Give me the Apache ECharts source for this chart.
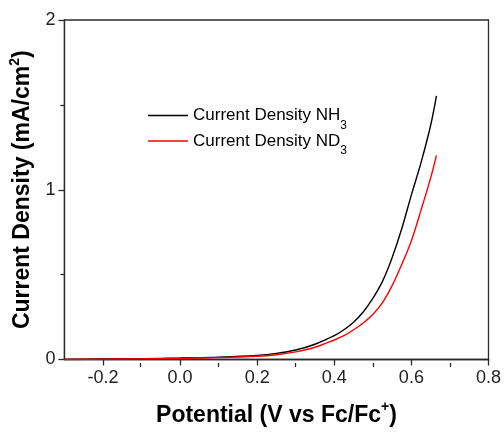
<!DOCTYPE html>
<html>
<head>
<meta charset="utf-8">
<script src="https://cdn.jsdelivr.net/npm/echarts@6/dist/echarts.min.js"></script>
<style>
  html, body { margin: 0; padding: 0; background: #fff; }
  #chart { width: 504px; height: 432px; }
</style>
</head>
<body>
<div id="chart"></div>
<script>
// Linear sweep: potential (V vs Fc/Fc+) and current density (mA/cm2)
const potential = [-0.3, -0.2, -0.1, 0.0, 0.1, 0.2, 0.25, 0.3, 0.35, 0.4, 0.425, 0.45, 0.475, 0.5, 0.525, 0.55, 0.575, 0.6, 0.625, 0.65, 0.665];
const densityNH3 = [0.000, 0.003, 0.005, 0.009, 0.014, 0.024, 0.036, 0.056, 0.09, 0.14, 0.175, 0.22, 0.28, 0.36, 0.46, 0.6, 0.77, 0.97, 1.16, 1.38, 1.553];
const densityND3 = [0.000, 0.002, 0.004, 0.007, 0.011, 0.019, 0.028, 0.045, 0.072, 0.115, 0.14, 0.175, 0.215, 0.265, 0.335, 0.435, 0.56, 0.70, 0.88, 1.07, 1.203];

const seriesNames = ['Current Density NH3', 'Current Density ND3'];
const seriesColors = ['#000000', '#ff0000'];

const xMajorTicks = [-0.2, 0.0, 0.2, 0.4, 0.6, 0.8];
const xMinorTicks = [-0.1, 0.1, 0.3, 0.5, 0.7];
const yTicks = [0, 1, 2];

const FONT = '"Liberation Sans", Arial, sans-serif';
const AXIS_COLOR = '#2b2b2b';

function pairs(xs, ys) {
  return xs.map((x, i) => [x, ys[i]]);
}

const gridBox = { left: 63, top: 20, width: 426, height: 343 };

const chart = echarts.init(document.getElementById('chart'), null, { renderer: 'canvas' });

chart.setOption({
  backgroundColor: '#ffffff',
  animation: false,
  grid: [
    Object.assign({ show: true, borderColor: AXIS_COLOR, borderWidth: 1.3, containLabel: false }, gridBox),
    Object.assign({ show: false, containLabel: false }, gridBox)
  ],
  legend: {
    show: true,
    orient: 'vertical',
    left: 148,
    top: 107,
    padding: 0,
    icon: 'rect',
    itemWidth: 40,
    itemHeight: 1.5,
    itemGap: 1,
    data: seriesNames,
    formatter: function (name) {
      return name === seriesNames[0]
        ? '{t|Current Density NH}{s|3}'
        : '{t|Current Density ND}{s|3}';
    },
    textStyle: {
      fontFamily: FONT,
      fontSize: 17,
      color: '#000',
      rich: {
        t: { fontFamily: FONT, fontSize: 17, color: '#000', lineHeight: 20 },
        s: { fontFamily: FONT, fontSize: 12, color: '#000', lineHeight: 20, verticalAlign: 'bottom', padding: [0, 0, -6, 0] }
      }
    }
  },
  xAxis: [
    {
      type: 'value',
      gridIndex: 0,
      min: -0.3,
      max: 0.8,
      interval: 0.1,
      name: '{b|Potential (V vs Fc/Fc}{p|+}{b|)}',
      nameLocation: 'middle',
      nameGap: 43,
      nameTextStyle: {
        fontFamily: FONT,
        fontSize: 23,
        fontWeight: 'bold',
        color: '#000',
        rich: {
          b: { fontFamily: FONT, fontSize: 23, fontWeight: 'bold', color: '#000', lineHeight: 26 },
          p: { fontFamily: FONT, fontSize: 14, fontWeight: 'bold', color: '#000', lineHeight: 26, verticalAlign: 'top', padding: [-2, 0, 0, 0] }
        }
      },
      axisLine: { show: true, onZero: false, lineStyle: { color: AXIS_COLOR, width: 1.3 } },
      axisTick: { show: true, inside: false, length: 6, customValues: xMajorTicks, lineStyle: { color: AXIS_COLOR, width: 1.3 } },
      axisLabel: {
        customValues: xMajorTicks,
        margin: 10,
        fontFamily: FONT,
        fontSize: 18,
        color: '#222',
        formatter: v => v.toFixed(1)
      },
      splitLine: { show: false }
    },
    {
      type: 'value',
      gridIndex: 1,
      min: -0.3,
      max: 0.8,
      interval: 0.1,
      axisLine: { show: false, onZero: false },
      axisTick: { show: true, inside: false, length: 4, customValues: xMinorTicks, lineStyle: { color: AXIS_COLOR, width: 1.3 } },
      axisLabel: { show: false },
      splitLine: { show: false }
    }
  ],
  yAxis: [
    {
      type: 'value',
      gridIndex: 0,
      min: 0,
      max: 2,
      interval: 1,
      name: '{b|Current Density (mA/cm}{p|2}{b|)}',
      nameLocation: 'middle',
      nameGap: 26,
      nameRotate: 90,
      nameTextStyle: {
        fontFamily: FONT,
        fontSize: 23,
        fontWeight: 'bold',
        color: '#000',
        rich: {
          b: { fontFamily: FONT, fontSize: 23, fontWeight: 'bold', color: '#000', lineHeight: 26 },
          p: { fontFamily: FONT, fontSize: 14, fontWeight: 'bold', color: '#000', lineHeight: 26, verticalAlign: 'top', padding: [-2, 0, 0, 0] }
        }
      },
      axisLine: { show: true, onZero: false, lineStyle: { color: AXIS_COLOR, width: 1.3 } },
      axisTick: { show: true, inside: false, length: 6, customValues: yTicks, lineStyle: { color: AXIS_COLOR, width: 1.3 } },
      minorTick: { show: true, splitNumber: 2, length: 4, lineStyle: { color: AXIS_COLOR, width: 1.3 } },
      axisLabel: {
        customValues: yTicks,
        margin: 9,
        fontFamily: FONT,
        fontSize: 18,
        color: '#222'
      },
      splitLine: { show: false },
      minorSplitLine: { show: false }
    },
    {
      type: 'value',
      gridIndex: 1,
      min: 0,
      max: 2,
      show: false
    }
  ],
  series: [
    {
      name: seriesNames[0],
      type: 'line',
      xAxisIndex: 0,
      yAxisIndex: 0,
      data: pairs(potential, densityNH3),
      symbol: 'none',
      smooth: 0.35,
      lineStyle: { color: seriesColors[0], width: 1.4 },
      itemStyle: { color: seriesColors[0] }
    },
    {
      name: seriesNames[1],
      type: 'line',
      xAxisIndex: 0,
      yAxisIndex: 0,
      data: pairs(potential, densityND3),
      symbol: 'none',
      smooth: 0.35,
      lineStyle: { color: seriesColors[1], width: 1.4 },
      itemStyle: { color: seriesColors[1] }
    }
  ]
});
</script>
</body>
</html>
